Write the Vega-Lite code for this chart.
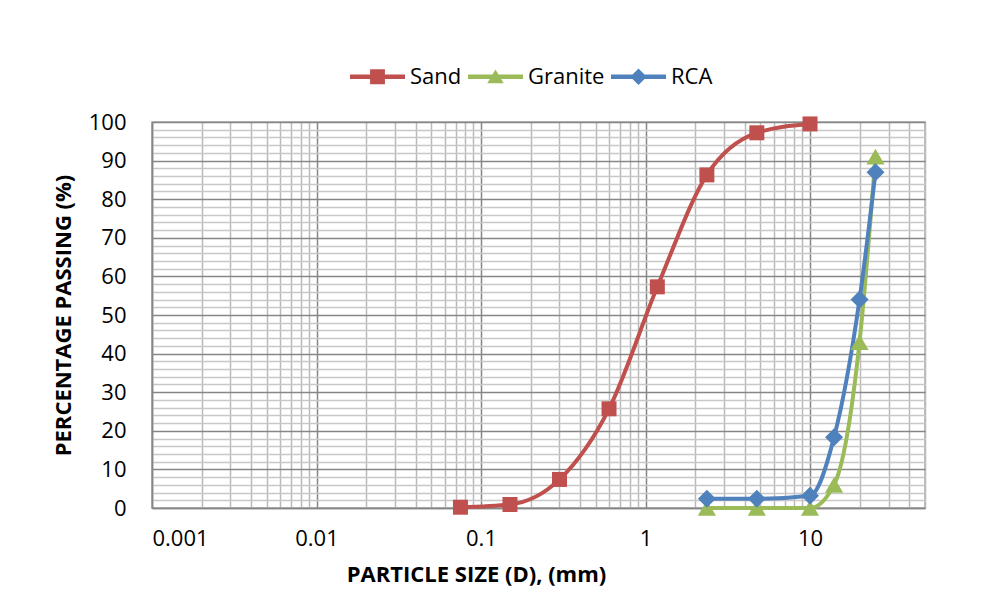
{
  "$schema": "https://vega.github.io/schema/vega-lite/v6.json",
  "width": 773,
  "height": 386,
  "autosize": "none",
  "padding": {"left": 152, "top": 122, "right": 59, "bottom": 82},
  "background": "white",
  "config": {
    "font": "Open Sans",
    "view": {"stroke": "#a6a6a6", "strokeWidth": 1.5}
  },
  "data": {
    "values": [
      {"series": "Sand", "size": 0.075, "passing": 0.2},
      {"series": "Sand", "size": 0.15, "passing": 0.9},
      {"series": "Sand", "size": 0.3, "passing": 7.4},
      {"series": "Sand", "size": 0.6, "passing": 25.7},
      {"series": "Sand", "size": 1.18, "passing": 57.3},
      {"series": "Sand", "size": 2.36, "passing": 86.3},
      {"series": "Sand", "size": 4.75, "passing": 97.2},
      {"series": "Sand", "size": 10, "passing": 99.5},
      {"series": "Granite", "size": 2.36, "passing": 0},
      {"series": "Granite", "size": 4.75, "passing": 0},
      {"series": "Granite", "size": 10, "passing": 0},
      {"series": "Granite", "size": 14, "passing": 6},
      {"series": "Granite", "size": 20, "passing": 43},
      {"series": "Granite", "size": 25, "passing": 91},
      {"series": "RCA", "size": 2.36, "passing": 2.4},
      {"series": "RCA", "size": 4.75, "passing": 2.4},
      {"series": "RCA", "size": 10, "passing": 3.2},
      {"series": "RCA", "size": 14, "passing": 18.3},
      {"series": "RCA", "size": 20, "passing": 54},
      {"series": "RCA", "size": 25, "passing": 87}
    ]
  },
  "encoding": {
    "x": {
      "field": "size",
      "type": "quantitative",
      "scale": {"type": "log", "domain": [0.001, 50], "nice": false},
      "axis": {
        "title": "PARTICLE SIZE (D), (mm)",
        "titleFont": "Open Sans",
        "titleFontSize": 22,
        "titleFontWeight": "bold",
        "titleColor": "#000000",
        "titleX": 324,
        "titleY": 73,
        "titleBaseline": "alphabetic",
        "titleAlign": "center",
        "values": [0.001, 0.002, 0.003, 0.004, 0.005, 0.006, 0.007, 0.008, 0.009,
                   0.01, 0.02, 0.03, 0.04, 0.05, 0.06, 0.07, 0.08, 0.09,
                   0.1, 0.2, 0.3, 0.4, 0.5, 0.6, 0.7, 0.8, 0.9,
                   1, 2, 3, 4, 5, 6, 7, 8, 9,
                   10, 20, 30, 40, 50],
        "labelExpr": "abs(log(datum.value)/LN10 - round(log(datum.value)/LN10)) < 0.000001 ? format(datum.value, '~g') : ''",
        "labelOverlap": false,
        "labelFontSize": 22,
        "labelColor": "#000000",
        "labelPadding": 20,
        "ticks": false,
        "domainColor": "#868686",
        "domainWidth": 1.5,
        "grid": true,
        "gridWidth": 1.5,
        "gridColor": {"condition": {"test": "abs(log(datum.value)/LN10 - round(log(datum.value)/LN10)) < 0.000001", "value": "#868686"}, "value": "#bababa"}
      }
    },
    "y": {
      "field": "passing",
      "type": "quantitative",
      "scale": {"domain": [0, 100], "nice": false},
      "axis": {
        "title": "PERCENTAGE PASSING (%)",
        "titleFont": "Open Sans",
        "titleFontSize": 22,
        "titleFontWeight": "bold",
        "titleColor": "#000000",
        "titleAngle": -90,
        "titleX": -82,
        "titleY": 193,
        "titleBaseline": "alphabetic",
        "titleAlign": "center",
        "values": [0, 2, 4, 6, 8, 10, 12, 14, 16, 18, 20, 22, 24, 26, 28, 30, 32, 34, 36, 38, 40, 42, 44, 46, 48, 50, 52, 54, 56, 58, 60, 62, 64, 66, 68, 70, 72, 74, 76, 78, 80, 82, 84, 86, 88, 90, 92, 94, 96, 98, 100],
        "labelExpr": "datum.value % 10 == 0 ? datum.label : ''",
        "labelOverlap": false,
        "labelFontSize": 22,
        "labelColor": "#000000",
        "labelPadding": 26,
        "ticks": false,
        "domainColor": "#868686",
        "domainWidth": 1.5,
        "grid": true,
        "gridWidth": 1.5,
        "gridColor": {"condition": {"test": "datum.value % 10 == 0", "value": "#868686"}, "value": "#c8c8c8"}
      }
    }
  },
  "layer": [
    {
      "transform": [{"filter": "datum.series == 'Sand'"}],
      "mark": {"type": "line", "interpolate": "monotone", "strokeWidth": 4, "color": "#C0504D"},
      "encoding": {}
    },
    {
      "transform": [{"filter": "datum.series == 'Granite'"}],
      "mark": {"type": "line", "interpolate": "monotone", "strokeWidth": 4, "color": "#9BBB59"},
      "encoding": {}
    },
    {
      "transform": [{"filter": "datum.series == 'RCA'"}],
      "mark": {"type": "line", "interpolate": "monotone", "strokeWidth": 4, "color": "#4F81BD"},
      "encoding": {}
    },
    {
      "transform": [{"filter": "datum.series == 'Sand'"}],
      "mark": {"type": "point", "shape": "square", "filled": true, "size": 225, "opacity": 1, "color": "#C0504D"},
      "encoding": {}
    },
    {
      "transform": [{"filter": "datum.series == 'Granite'"}],
      "mark": {"type": "point", "shape": "triangle-up", "filled": true, "size": 330, "opacity": 1, "color": "#9BBB59"},
      "encoding": {}
    },
    {
      "transform": [{"filter": "datum.series == 'RCA'"}],
      "mark": {"type": "point", "shape": "diamond", "filled": true, "size": 324, "opacity": 1, "color": "#4F81BD"},
      "encoding": {}
    },
    {
      "mark": {"type": "point", "filled": true, "opacity": 0, "size": 3025},
      "encoding": {
        "color": {
          "field": "series", "type": "nominal",
          "scale": {"domain": ["Sand", "Granite", "RCA"], "range": ["#C0504D", "#9BBB59", "#4F81BD"]},
          "legend": {
            "title": null,
            "orient": "none",
            "direction": "horizontal",
            "legendX": 198,
            "legendY": -73,
            "symbolSize": 3025,
            "symbolOpacity": 1,
            "symbolStrokeWidth": 0,
            "labelFontSize": 22,
            "labelFont": "Open Sans",
            "labelColor": "#000000",
            "labelOffset": 5,
            "columnPadding": 6,
            "encode": {"symbols": {"update": {"opacity": {"value": 1}}}}
          }
        },
        "shape": {
          "field": "series", "type": "nominal",
          "scale": {
            "domain": ["Sand", "Granite", "RCA"],
            "range": [
              "M-1,-0.08H1V0.08H-1Z M-0.27,-0.27H0.27V0.27H-0.27Z",
              "M-1,-0.08H1V0.08H-1Z M0,-0.26L0.3,0.24H-0.3Z",
              "M-1,-0.08H1V0.08H-1Z M0,-0.3L0.3,0L0,0.3L-0.3,0Z"
            ]
          }
        }
      }
    }
  ]
}
